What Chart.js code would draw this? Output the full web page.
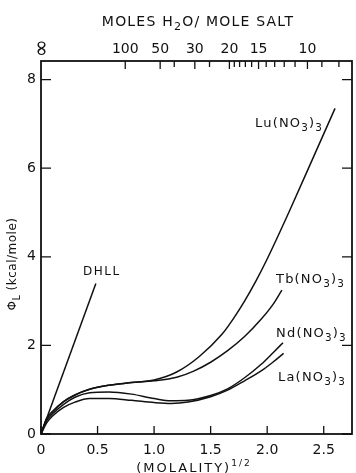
<!DOCTYPE html>
<html>
<head>
<meta charset="utf-8">
<script src="https://cdn.jsdelivr.net/npm/chart.js@4.4.0/dist/chart.umd.min.js"></script>
<style>
  html, body { margin: 0; padding: 0; background: #fff; }
</style>
</head>
<body>
<canvas id="grafico" width="356" height="473"></canvas>
<script>
// (molalidade)^1/2 e phi_L (kcal/mol)
const dhllX = [0, 0.485];
const dhllY = [0, 3.4];

const luX = [0, 0.05, 0.1, 0.2, 0.3, 0.43, 0.6, 0.8, 1.0, 1.2, 1.4, 1.6, 1.7, 1.8, 1.9, 2.0, 2.2, 2.4, 2.6];
const luY = [0, 0.35, 0.5, 0.73, 0.88, 1.01, 1.1, 1.16, 1.22, 1.4, 1.75, 2.25, 2.6, 3.0, 3.45, 3.95, 5.05, 6.2, 7.35];

const tbX = [0, 0.05, 0.1, 0.2, 0.3, 0.43, 0.6, 0.8, 1.0, 1.2, 1.35, 1.5, 1.65, 1.8, 1.95, 2.05, 2.13];
const tbY = [0, 0.35, 0.5, 0.73, 0.88, 1.01, 1.1, 1.16, 1.2, 1.28, 1.42, 1.62, 1.88, 2.2, 2.6, 2.92, 3.25];

const ndX = [0, 0.05, 0.1, 0.2, 0.3, 0.43, 0.6, 0.8, 1.0, 1.15, 1.3, 1.5, 1.65, 1.8, 1.95, 2.05, 2.14];
const ndY = [0, 0.3, 0.45, 0.67, 0.83, 0.93, 0.95, 0.9, 0.8, 0.75, 0.76, 0.87, 1.02, 1.27, 1.58, 1.83, 2.06];

const laX = [0, 0.05, 0.1, 0.2, 0.3, 0.43, 0.6, 0.8, 1.0, 1.15, 1.3, 1.5, 1.65, 1.8, 1.95, 2.05, 2.145];
const laY = [0, 0.25, 0.4, 0.6, 0.72, 0.8, 0.8, 0.76, 0.71, 0.69, 0.72, 0.84, 0.99, 1.2, 1.43, 1.62, 1.82];

// Ticks dos eixos
const xTicks = [0, 0.5, 1.0, 1.5, 2.0, 2.5];
const yTicks = [0, 2, 4, 6, 8];
// Eixo superior: mols de H2O por mol de sal (n = 55.51 / m)
const molesTicks = [100, 50, 40, 30, 25, 20, 19, 18, 17, 16, 15, 14, 13, 12, 11, 10, 9, 8];
const molesLabels = [100, 50, 30, 20, 15, 10];
const molesAgua = 55.51;

const fonte = "'DejaVu Sans'";
const preto = "#111";

function pontos(xs, ys) {
  return xs.map((x, i) => ({ x: x, y: ys[i] }));
}

function serie(xs, ys) {
  return {
    data: pontos(xs, ys),
    showLine: true,
    borderColor: preto,
    borderWidth: 1.5,
    pointRadius: 0,
    cubicInterpolationMode: "monotone",
    fill: false,
  };
}

// Escreve texto com partes subscritas / sobrescritas
function larguraRica(ctx, partes, tam, esp) {
  let w = 0;
  partes.forEach(([txt, mod]) => {
    const s = mod === "sub" ? tam * 0.8 : mod === "sup" ? tam * 0.7 : tam;
    ctx.font = `${s}px ${fonte}`;
    ctx.letterSpacing = esp + "px";
    w += ctx.measureText(txt).width;
  });
  return w;
}

function escreveRico(ctx, partes, x, y, tam, esp, centro) {
  let cx = centro ? x - larguraRica(ctx, partes, tam, esp) / 2 : x;
  ctx.textAlign = "left";
  ctx.textBaseline = "alphabetic";
  partes.forEach(([txt, mod]) => {
    const s = mod === "sub" ? tam * 0.8 : mod === "sup" ? tam * 0.7 : tam;
    const dy = mod === "sub" ? tam * 0.3 : mod === "sup" ? -tam * 0.45 : 0;
    ctx.font = `${s}px ${fonte}`;
    ctx.letterSpacing = esp + "px";
    ctx.fillText(txt, cx, y + dy);
    cx += ctx.measureText(txt).width;
  });
}

const nitrato = (el) => [[el + "(NO"], ["3", "sub"], [")"], ["3", "sub"]];

// Moldura, marcas internas e textos
const decoracao = {
  id: "decoracao",
  afterDraw(chart) {
    const { ctx, chartArea: a, scales } = chart;
    ctx.save();
    ctx.strokeStyle = preto;
    ctx.fillStyle = preto;
    ctx.lineWidth = 1.8;
    ctx.strokeRect(a.left, a.top, a.right - a.left, a.bottom - a.top);

    ctx.lineWidth = 1.3;
    ctx.beginPath();
    scales.x.ticks.forEach((t) => {
      const px = scales.x.getPixelForValue(t.value);
      ctx.moveTo(px, a.bottom);
      ctx.lineTo(px, a.bottom - 8);
    });
    scales.y.ticks.forEach((t) => {
      const py = scales.y.getPixelForValue(t.value);
      ctx.moveTo(a.left, py);
      ctx.lineTo(a.left + 10, py);
      ctx.moveTo(a.right, py);
      ctx.lineTo(a.right - 10, py);
    });
    scales.x2.ticks.forEach((t) => {
      if (t.value === 0) return;
      const px = scales.x2.getPixelForValue(t.value);
      ctx.moveTo(px, a.top);
      ctx.lineTo(px, a.top + (t.label ? 8 : 6));
    });
    ctx.stroke();

    // Rótulos do eixo superior (o infinito fica de pé, como no original)
    ctx.letterSpacing = "0px";
    ctx.textAlign = "center";
    ctx.textBaseline = "alphabetic";
    scales.x2.ticks.forEach((t) => {
      if (!t.label) return;
      const px = scales.x2.getPixelForValue(t.value);
      if (t.value === 0) {
        ctx.save();
        ctx.font = `22px ${fonte}`;
        ctx.translate(px + 1, 48);
        ctx.rotate(-Math.PI / 2);
        ctx.textBaseline = "middle";
        ctx.fillText(t.label, 0, 0);
        ctx.restore();
      } else {
        ctx.font = `14px ${fonte}`;
        ctx.fillText(t.label, px, 53);
      }
    });

    // Títulos
    escreveRico(ctx, [["MOLES H"], ["2", "sub"], ["O/ MOLE SALT"]], 198, 26, 14, 1.2, true);
    escreveRico(ctx, [["(MOLALITY)"], ["1/2", "sup"]], 194, 472, 13, 2, true);

    ctx.save();
    ctx.translate(16, 264);
    ctx.rotate(-Math.PI / 2);
    escreveRico(ctx, [["Φ"], ["L", "sub"], [" (kcal/mole)"]], 0, 0, 12, 0.5, true);
    ctx.restore();

    // Rótulos das curvas
    escreveRico(ctx, [["DHLL"]], 83, 275, 12, 1.5, false);
    escreveRico(ctx, nitrato("Lu"), 255, 127, 13, 1.2, false);
    escreveRico(ctx, nitrato("Tb"), 276, 283, 13, 1.2, false);
    escreveRico(ctx, nitrato("Nd"), 276, 337, 13, 1.2, false);
    escreveRico(ctx, nitrato("La"), 278, 381, 13, 1.2, false);
    ctx.restore();
  },
};

new Chart(document.getElementById("grafico"), {
  type: "scatter",
  data: {
    datasets: [
      serie(dhllX, dhllY),
      serie(luX, luY),
      serie(tbX, tbY),
      serie(ndX, ndY),
      serie(laX, laY),
    ],
  },
  options: {
    responsive: false,
    animation: false,
    devicePixelRatio: 1,
    layout: { padding: { right: 4 } },
    plugins: {
      legend: { display: false },
      tooltip: { enabled: false },
    },
    scales: {
      x: {
        type: "linear",
        position: "bottom",
        min: 0,
        max: 2.75,
        afterBuildTicks: (s) => { s.ticks = xTicks.map((v) => ({ value: v })); },
        afterFit: (s) => { s.height = 39; },
        grid: { display: false, drawTicks: false },
        border: { display: false },
        ticks: {
          autoSkip: false,
          maxRotation: 0,
          padding: 8,
          color: preto,
          font: { family: "DejaVu Sans", size: 14 },
          callback: (v) => (v === 0 ? "0" : v.toFixed(1)),
        },
      },
      x2: {
        type: "linear",
        position: "top",
        min: 0,
        max: 2.75,
        afterBuildTicks: (s) => {
          s.ticks = [{ value: 0 }].concat(
            molesTicks.map((n) => ({ value: Math.sqrt(molesAgua / n) }))
          );
        },
        afterFit: (s) => { s.height = 61; },
        grid: { display: false, drawTicks: false },
        border: { display: false },
        ticks: {
          display: false,
          autoSkip: false,
          callback: (v) => {
            if (v === 0) return "∞";
            const n = Math.round(molesAgua / (v * v));
            return molesLabels.includes(n) ? String(n) : "";
          },
        },
      },
      y: {
        type: "linear",
        position: "left",
        min: 0,
        max: 8.42,
        afterBuildTicks: (s) => { s.ticks = yTicks.map((v) => ({ value: v })); },
        afterFit: (s) => { s.width = 41; },
        grid: { display: false, drawTicks: false },
        border: { display: false },
        ticks: {
          padding: 5,
          color: preto,
          font: { family: "DejaVu Sans", size: 14 },
        },
      },
    },
  },
  plugins: [decoracao],
});
</script>
</body>
</html>
